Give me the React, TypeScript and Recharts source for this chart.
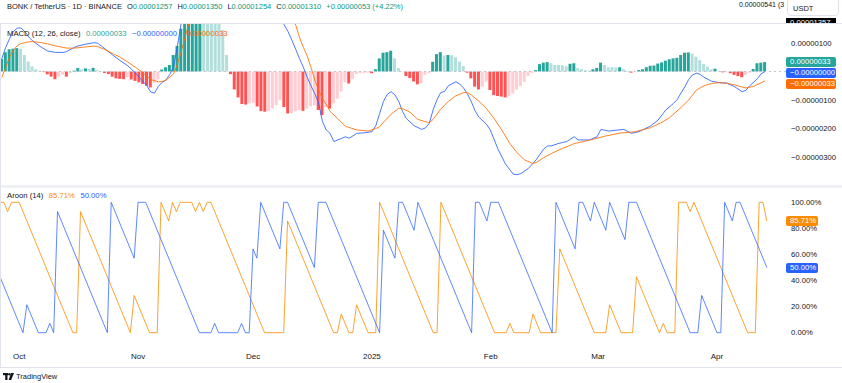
import { ComposedChart, Bar, Line, XAxis, YAxis, Cell, ReferenceLine } from 'recharts';

const FONT = '"Liberation Sans", Arial, sans-serif';
const TEXT = '#131722';
const MACD_BLUE = '#2962FF';
const SIGNAL_ORANGE = '#FF6D00';
const AROON_UP = '#FB8C00';
const AROON_DOWN = '#2962FF';
const BORDER = '#e0e3eb';

// day 0 = 26 Sep 2024, day 200 = 14 Apr 2025; 5 empty days keep the right offset
const DAYS = 201;
const PAD_DAYS = 5;

const monthTickDays = [5, 36, 66, 97, 128, 156, 187];
const monthTickLabels = ['Oct', 'Nov', 'Dec', '2025', 'Feb', 'Mar', 'Apr'];

// MACD values are in units of 1e-8 USDT
const histogram = [
  45, 68, 78, 80, 82, 80, 58, 35, 18, 8,
  3, -2, -10, -18, -27, -18, -11, -18, -6, 3,
  12, 8, 11, 9, 13, 5, 1, -5, -9, -18,
  -24, -26, -27, -20, -28, -33, -38, -44, -50, -56,
  -40, -28, 7, 15, 23, 58, 90, 150, 200, 220,
  240, 250, 258, 245, 225, 205, 188, 170, 146, 58,
  -9, -63, -91, -114, -116, -112, -110, -123, -139, -141,
  -138, -130, -118, -100, -125, -147, -146, -140, -136, -138,
  -130, -122, -118, -135, -153, -125, -130, -112, -95, -70,
  -38, -42, -27, -9, -6, -5, -4, -6, 8, 46,
  66, 68, 73, 46, 12, 1, -16, -23, -35, -45,
  -40, -12, -6, 34, 61, 68, 56, 58, 57, 50,
  35, 19, -4, -24, -53, -63, -53, -36, -65, -83,
  -86, -88, -91, -86, -77, -63, -51, -36, -16, -5,
  5, 26, 31, 33, 29, 23, 23, 22, 18, 27,
  29, 12, 8, 5, 3, 8, 13, 31, 23, 15,
  15, 14, 15, 8, 3, -4, -1, 5, 8, 15,
  20, 21, 28, 32, 38, 43, 46, 48, 58, 66,
  67, 63, 52, 40, 26, 17, 8, 10, 2, -3,
  -2, -6, -12, -16, -20, -12, -4, 9, 29, 31,
  33,
];

// [day, value] points
const macdPoints: [number, number][] = [
  [0, 46], [1, 85], [2, 115], [3, 140], [4, 152], [5, 153], [6, 140], [7, 122], [8, 108],
  [10, 88], [12, 72], [14, 67], [16, 67], [17, 70], [19, 85], [20, 90], [22, 96], [24, 101],
  [25, 100], [26, 90], [27, 80], [29, 58], [31, 38], [33, 20], [35, -5], [37, -36], [38, -50],
  [39, -72], [40, -76], [41, -52], [42, -38], [43, -30], [44, -10], [45, 17], [46, 90],
  [47, 170], [48, 220], [52, 300], [60, 330], [68, 280], [72, 210], [74, 163], [75, 140],
  [76, 110], [77, 78], [78, 45], [79, 15], [80, -20], [81, -50], [82, -78], [83, -110],
  [84, -175], [85, -205], [86, -217], [87, -246], [88, -240], [89, -235], [90, -229],
  [91, -234], [92, -226], [93, -217], [95, -215], [97, -211], [98, -190], [99, -147],
  [100, -105], [101, -80], [102, -71], [103, -82], [104, -105], [105, -140], [106, -165],
  [108, -190], [110, -203], [111, -198], [112, -182], [113, -135], [114, -100], [115, -74],
  [116, -70], [117, -50], [119, -36], [120, -44], [121, -58], [122, -78], [123, -105],
  [124, -138], [125, -160], [127, -185], [128, -205], [130, -272], [132, -325], [134, -360],
  [135, -362], [136, -358], [138, -340], [140, -310], [142, -272], [143, -261], [144, -261],
  [146, -252], [148, -246], [150, -229], [151, -240], [154, -240], [156, -229], [157, -203],
  [159, -209], [161, -206], [163, -203], [165, -217], [167, -211], [170, -191], [172, -170],
  [174, -135], [176, -112], [177, -98], [179, -53], [180, -28], [181, -12], [182, -6],
  [183, -10], [184, -20], [186, -34], [188, -39], [190, -41], [192, -53], [194, -71],
  [195, -66], [196, -50], [198, -25], [199, -8], [200, -0.2],
];

const signalPoints: [number, number][] = [
  [0, -20], [1, 15], [2, 50], [3, 75], [4, 90], [5, 98], [7, 104], [8, 105], [10, 102],
  [12, 97], [14, 90], [17, 82], [19, 82], [21, 85], [24, 89], [25, 88], [27, 77], [29, 63],
  [31, 50], [33, 33], [35, 15], [37, -5], [39, -28], [41, -36], [42, -35], [43, -30],
  [44, -20], [45, -8], [46, 25], [47, 70], [48, 120], [49, 170], [52, 240], [60, 300],
  [70, 250], [76, 190], [77, 163], [78, 120], [79, 85], [80, 55], [81, 15], [82, -30],
  [83, -65], [84, -95], [85, -115], [86, -140], [88, -165], [90, -192], [93, -205],
  [96, -209], [98, -200], [99, -194], [100, -178], [102, -150], [104, -129], [105, -130],
  [107, -143], [109, -168], [112, -180], [113, -168], [115, -132], [117, -105], [119, -85],
  [121, -74], [122, -74], [123, -82], [125, -104], [127, -130], [129, -165], [131, -205],
  [133, -250], [135, -285], [137, -310], [139, -322], [140, -320], [142, -302], [144, -288],
  [146, -275], [150, -253], [154, -241], [158, -227], [162, -216], [166, -211], [170, -197],
  [173, -178], [175, -162], [178, -126], [180, -100], [182, -65], [184, -50], [186, -42],
  [188, -39], [190, -41], [192, -47], [195, -58], [197, -52], [200, -33],
];

// Aroon (14), percent; corner points of the lines
const aroonUpPoints: [number, number][] = [
  [0, 100], [1, 100], [2, 92.86], [3, 100], [5, 100], [19, 0], [20, 0], [21, 92.86],
  [34, 0], [35, 28.57], [39, 0], [41, 0], [42, 100], [43, 92.86], [44, 85.71], [45, 100],
  [46, 92.86], [47, 100], [50, 100], [51, 92.86], [52, 100], [53, 92.86], [54, 100],
  [55, 100], [69, 0], [74, 0], [75, 85.71], [87, 0], [88, 0], [89, 14.29], [91, 0],
  [92, 0], [93, 21.43], [96, 0], [98, 0], [99, 100], [113, 0], [114, 0], [115, 100],
  [129, 0], [132, 0], [133, 7.14], [134, 0], [138, 0], [139, 14.29], [141, 0], [145, 0],
  [146, 64.29], [155, 0], [158, 0], [159, 21.43], [162, 0], [165, 0], [166, 42.86],
  [172, 0], [173, 7.14], [174, 0], [176, 0], [177, 100], [179, 100], [180, 92.86],
  [181, 100], [195, 0], [197, 0], [198, 100], [199, 100], [200, 85.71],
];

const aroonDownPoints: [number, number][] = [
  [0, 42.86], [6, 0], [7, 21.43], [10, 0], [12, 0], [13, 7.14], [14, 0], [15, 92.86],
  [28, 0], [29, 100], [35, 57.14], [36, 100], [38, 100], [52, 0], [55, 0], [56, 7.14],
  [57, 0], [62, 0], [63, 7.14], [64, 0], [65, 0], [66, 64.29], [67, 57.14], [68, 100],
  [73, 64.29], [74, 100], [75, 100], [82, 50], [83, 100], [85, 100], [99, 0], [100, 78.57],
  [103, 57.14], [104, 100], [105, 100], [108, 78.57], [109, 100], [123, 0], [124, 100],
  [125, 100], [127, 85.71], [128, 100], [130, 100], [144, 0], [145, 100], [150, 64.29],
  [151, 100], [152, 100], [154, 85.71], [155, 100], [158, 78.57], [159, 100], [163, 71.43],
  [164, 100], [166, 100], [180, 0], [182, 0], [183, 28.57], [187, 0], [188, 0], [189, 100],
  [191, 85.71], [192, 100], [193, 100], [200, 50],
];

const macdTicks = [100, -100, -200, -300];
const aroonTicks = [0, 20, 40, 60, 80, 100];

// pane geometry
const MACD_TOP = 24;
const MACD_H = 161;
const MACD_MIN = -398.2;
const MACD_MAX = 166.7;
const AROON_TOP = 188;
const AROON_PLOT_H = 157;
const AROON_AXIS_H = 22;
const AROON_MIN = -9.43;
const AROON_MAX = 110.97;
const SCALE_W = 56;

type Row = { day: number; hist?: number; macd?: number; signal?: number; up?: number; down?: number };

const rows: Row[] = Array.from({ length: DAYS + PAD_DAYS }, (_, day) => ({
  day,
  hist: day < DAYS ? histogram[day] : undefined,
}));
macdPoints.forEach(([d, v]) => (rows[d].macd = v));
signalPoints.forEach(([d, v]) => (rows[d].signal = v));
aroonUpPoints.forEach(([d, v]) => (rows[d].up = v));
aroonDownPoints.forEach(([d, v]) => (rows[d].down = v));

function histColor(i: number) {
  const v = histogram[i];
  if (v === undefined) return 'transparent';
  const prev = i > 0 ? histogram[i - 1] : 0;
  if (v >= 0) return prev < v ? '#26A69A' : '#B2DFDB';
  return prev < v ? '#FFCDD2' : '#FF5252';
}

const fmtMacd = (v: number) => (v < 0 ? '\u2212' : '') + (Math.abs(v) * 1e-8).toFixed(8);
const fmtPct = (v: number) => v.toFixed(2) + '%';

const last = (pts: [number, number][]) => pts[pts.length - 1][1];
const lastHist = histogram[histogram.length - 1];
const lastMacd = last(macdPoints);
const lastSignal = last(signalPoints);
const lastUp = last(aroonUpPoints);
const lastDown = last(aroonDownPoints);

const macdY = (v: number) => MACD_TOP + ((MACD_MAX - v) / (MACD_MAX - MACD_MIN)) * MACD_H;
const aroonY = (v: number) => AROON_TOP + ((AROON_MAX - v) / (AROON_MAX - AROON_MIN)) * AROON_PLOT_H;

// price-scale badges pushed apart like the trading terminal does
function stackBadges(items: { v: number; y: number; bg: string; text: string }[]) {
  const sorted = [...items].sort((a, b) => a.y - b.y);
  let prevTop = -Infinity;
  return sorted.map((it) => {
    const top = Math.max(it.y - 5, prevTop + 11);
    prevTop = top;
    return { ...it, top };
  });
}

const macdBadges = stackBadges([
  { v: lastHist, y: macdY(lastHist), bg: '#26A69A', text: fmtMacd(lastHist) },
  { v: lastMacd, y: macdY(lastMacd), bg: MACD_BLUE, text: fmtMacd(lastMacd) },
  { v: lastSignal, y: macdY(lastSignal), bg: SIGNAL_ORANGE, text: fmtMacd(lastSignal) },
]);
const aroonBadges = stackBadges([
  { v: lastUp, y: aroonY(lastUp), bg: AROON_UP, text: fmtPct(lastUp) },
  { v: lastDown, y: aroonY(lastDown), bg: AROON_DOWN, text: fmtPct(lastDown) },
]);

const tickStyle = { fill: TEXT, fontSize: 7.7, fontFamily: FONT };

function Badge({ top, width, bg, text }: { top: number; width: number; bg: string; text: string }) {
  return (
    <div
      style={{
        position: 'absolute',
        left: 786,
        top,
        width,
        height: 10,
        background: bg,
        color: '#fff',
        fontSize: 7.7,
        lineHeight: '10px',
        paddingLeft: 4,
        boxSizing: 'border-box',
        borderRadius: 2,
        whiteSpace: 'nowrap',
      }}
    >
      {text}
    </div>
  );
}

function TvLogo() {
  return (
    <div style={{ position: 'absolute', left: 3, top: 372, display: 'flex', alignItems: 'center', gap: 2 }}>
      <svg width={11} height={7} viewBox="0 0 11 7">
        <rect x={0} y={0} width={5} height={2.2} fill={TEXT} />
        <rect x={2.2} y={0} width={2.3} height={7} fill={TEXT} />
        <circle cx={6.4} cy={1.3} r={1.2} fill={TEXT} />
        <polygon points="8,0 11,0 8.2,7 5.6,7" fill={TEXT} />
      </svg>
      <span style={{ fontSize: 7.5, color: TEXT }}>TradingView</span>
    </div>
  );
}

export default function App() {
  const ohlc = [
    ['O', '0.00001257'],
    ['H', '0.00001350'],
    ['L', '0.00001254'],
    ['C', '0.00001310'],
  ];
  return (
    <div
      style={{
        position: 'absolute',
        left: 0,
        top: 0,
        width: 842,
        height: 383,
        background: '#fff',
        fontFamily: FONT,
        color: TEXT,
        overflow: 'hidden',
      }}
    >
      {/* symbol header */}
      <div
        style={{
          position: 'absolute',
          left: 7,
          top: 2,
          display: 'flex',
          gap: 5,
          fontSize: 7.5,
          lineHeight: '10px',
          whiteSpace: 'nowrap',
        }}
      >
        <span>BONK / TetherUS · 1D · BINANCE</span>
        {ohlc.map(([k, v]) => (
          <span key={k}>
            {k}
            <span style={{ color: '#089981' }}>{v}</span>
          </span>
        ))}
        <span style={{ color: '#089981' }}>+0.00000053 (+4.22%)</span>
      </div>
      <div style={{ position: 'absolute', left: 739, top: 0, fontSize: 7, lineHeight: '10px', whiteSpace: 'nowrap' }}>
        0.00000541 (3
      </div>
      <div
        style={{
          position: 'absolute',
          left: 787,
          top: -3,
          width: 52,
          height: 19,
          background: '#fff',
          border: `1px solid ${BORDER}`,
          borderRadius: 4,
          boxSizing: 'border-box',
          fontSize: 7.5,
          lineHeight: '10px',
          paddingLeft: 5,
          paddingTop: 6,
        }}
      >
        USDT
      </div>
      <div
        style={{
          position: 'absolute',
          left: 786,
          top: 18,
          width: 50,
          height: 6,
          background: '#000',
          overflow: 'hidden',
          color: '#fff',
          fontSize: 7.7,
          lineHeight: '10px',
          paddingLeft: 4,
          boxSizing: 'border-box',
        }}
      >
        0.00001357
      </div>
      <div style={{ position: 'absolute', left: 0, top: 23, width: 842, height: 1, background: BORDER }} />

      {/* MACD pane */}
      <div style={{ position: 'absolute', left: 0, top: MACD_TOP }}>
        <ComposedChart width={842} height={MACD_H} data={rows} margin={{ top: 0, right: 0, bottom: 0, left: 0 }}>
          <XAxis dataKey="day" hide />
          <YAxis
            orientation="right"
            width={SCALE_W}
            domain={[MACD_MIN, MACD_MAX]}
            allowDataOverflow
            ticks={macdTicks}
            interval={0}
            tickFormatter={fmtMacd}
            tick={tickStyle}
            tickSize={3}
            tickMargin={2}
            axisLine={false}
            tickLine={false}
          />
          <ReferenceLine y={0} stroke="#c3c6ce" strokeDasharray="2 3" />
          <Bar dataKey="hist" barSize={3} isAnimationActive={false}>
            {rows.map((r) => (
              <Cell key={r.day} fill={histColor(r.day)} />
            ))}
          </Bar>
          <Line
            dataKey="macd"
            type="linear"
            stroke={MACD_BLUE}
            strokeWidth={1}
            strokeOpacity={0.85}
            dot={false}
            connectNulls
            isAnimationActive={false}
          />
          <Line
            dataKey="signal"
            type="linear"
            stroke={SIGNAL_ORANGE}
            strokeWidth={1}
            strokeOpacity={0.85}
            dot={false}
            connectNulls
            isAnimationActive={false}
          />
        </ComposedChart>
      </div>
      <div
        style={{
          position: 'absolute',
          left: 7,
          top: 29,
          display: 'flex',
          gap: 5.4,
          fontSize: 7.7,
          lineHeight: '10px',
          whiteSpace: 'nowrap',
        }}
      >
        <span>MACD (12, 26, close)</span>
        <span style={{ color: '#26A69A' }}>{fmtMacd(lastHist)}</span>
        <span style={{ color: MACD_BLUE }}>{fmtMacd(lastMacd)}</span>
        <span style={{ color: SIGNAL_ORANGE }}>{fmtMacd(lastSignal)}</span>
      </div>
      {macdBadges.map((b) => (
        <Badge key={b.text + b.bg} top={b.top} width={50} bg={b.bg} text={b.text} />
      ))}

      <div style={{ position: 'absolute', left: 0, top: 185, width: 842, height: 3, background: '#eef0f4' }} />

      {/* Aroon pane with the shared time axis */}
      <div style={{ position: 'absolute', left: 0, top: AROON_TOP }}>
        <ComposedChart
          width={842}
          height={AROON_PLOT_H + AROON_AXIS_H}
          data={rows}
          margin={{ top: 0, right: 0, bottom: 0, left: 0 }}
        >
          <XAxis
            dataKey="day"
            height={AROON_AXIS_H}
            ticks={monthTickDays}
            interval={0}
            tickFormatter={(d: number) => monthTickLabels[monthTickDays.indexOf(d)]}
            tick={{ ...tickStyle, fontSize: 8 }}
            tickSize={0}
            tickMargin={8}
            axisLine={false}
            tickLine={false}
          />
          <YAxis
            orientation="right"
            width={SCALE_W}
            domain={[AROON_MIN, AROON_MAX]}
            allowDataOverflow
            ticks={aroonTicks}
            interval={0}
            tickFormatter={fmtPct}
            tick={tickStyle}
            tickSize={3}
            tickMargin={2}
            axisLine={false}
            tickLine={false}
          />
          <Line
            dataKey="up"
            type="linear"
            stroke={AROON_UP}
            strokeWidth={1}
            strokeOpacity={0.8}
            dot={false}
            connectNulls
            isAnimationActive={false}
          />
          <Line
            dataKey="down"
            type="linear"
            stroke={AROON_DOWN}
            strokeWidth={1}
            strokeOpacity={0.75}
            dot={false}
            connectNulls
            isAnimationActive={false}
          />
        </ComposedChart>
      </div>
      <div
        style={{
          position: 'absolute',
          left: 7,
          top: 191,
          display: 'flex',
          gap: 5.5,
          fontSize: 7.7,
          lineHeight: '10px',
          whiteSpace: 'nowrap',
        }}
      >
        <span>Aroon (14)</span>
        <span style={{ color: AROON_UP }}>{fmtPct(lastUp)}</span>
        <span style={{ color: AROON_DOWN }}>{fmtPct(lastDown)}</span>
      </div>
      {aroonBadges.map((b) => (
        <Badge key={b.text + b.bg} top={b.top} width={32} bg={b.bg} text={b.text} />
      ))}

      <div style={{ position: 'absolute', left: 0, top: 24, width: 1, height: 343, background: BORDER }} />
      <div style={{ position: 'absolute', left: 0, top: 367, width: 842, height: 1, background: BORDER }} />
      <TvLogo />
    </div>
  );
}
